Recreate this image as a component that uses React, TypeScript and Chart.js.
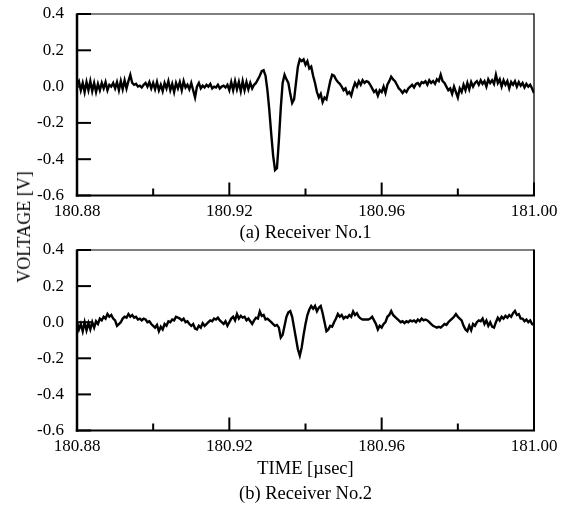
import React, { useEffect, useRef } from "react";
import { Chart, registerables } from "chart.js";

Chart.register(...registerables);

// ---- axes ----
const X_MIN = 180.88;
const X_MAX = 181.0;
const Y_MIN = -0.6;
const Y_MAX = 0.4;
const X_MAJOR = [180.88, 180.92, 180.96, 181.0];
const X_MINOR = [180.9, 180.94, 180.98];
const Y_TICKS = [0.4, 0.2, 0.0, -0.2, -0.4, -0.6];

// ---- sampling (µs) ----
const T_START = 180.88;
const T_STEP = 0.0005;

// ---- texts ----
const TITLE_A = "(a) Receiver No.1";
const TITLE_B = ["TIME [µsec]", "(b) Receiver No.2"];
const Y_TITLE = "VOLTAGE [V]";

// ---- series (V) ----
const RECEIVER_1 = [
  0.01, 0.03, -0.02, 0.02, -0.03, 0.025, -0.02, 0.03, -0.025, 0.02,
  -0.03, 0.015, -0.02, 0.02, -0.01, 0.025, -0.02, 0.01, 0.0, 0.02,
  -0.01, 0.025, -0.02, 0.03, -0.015, 0.035, -0.01, 0.03, 0.065, 0.02,
  0.01, 0.015, 0.0, 0.005, -0.005, 0.01, 0.02, 0.0, 0.025, -0.01,
  0.02, -0.015, 0.025, -0.02, 0.01, -0.025, 0.02, -0.01, 0.03, -0.02,
  0.015, -0.03, 0.02, -0.01, 0.025, -0.02, 0.03, -0.005, 0.01, -0.015,
  0.02, -0.02, -0.06, 0.0, 0.02, -0.01, 0.005, -0.005, 0.01, 0.0,
  0.015, -0.01, 0.0, -0.005, 0.01, -0.01, 0.0, 0.005, -0.005, 0.01,
  -0.02, 0.025, -0.02, 0.03, -0.015, 0.025, -0.025, 0.03, -0.02, 0.025,
  -0.015, 0.02, -0.01, 0.01, 0.02, 0.04, 0.06, 0.085, 0.09, 0.06,
  -0.02, -0.13, -0.26, -0.38, -0.46, -0.45, -0.3, -0.12, 0.02, 0.065,
  0.04, 0.02, -0.04, -0.09, -0.07, 0.02, 0.11, 0.15, 0.14, 0.15,
  0.12, 0.14, 0.1, 0.11, 0.06, 0.02, -0.03, -0.06, -0.04, -0.085,
  -0.06, -0.07, -0.02, 0.03, 0.065, 0.06, 0.04, 0.025, 0.015, 0.0,
  -0.02, -0.01, -0.04, -0.03, -0.05, -0.01, 0.02, 0.0, 0.03, 0.01,
  0.035, 0.02, 0.03, 0.025, 0.01, -0.01, -0.03, -0.02, -0.05, -0.02,
  -0.03, 0.0, -0.035, 0.01, 0.03, 0.055, 0.04, 0.03, 0.01, -0.01,
  -0.02, -0.035, -0.02, -0.03, -0.01, 0.0, 0.01, -0.005, 0.015, 0.02,
  0.005, 0.025, 0.02, 0.03, 0.01, 0.035, 0.02, 0.03, 0.015, 0.04,
  0.03, 0.065, 0.03, 0.02, 0.0, -0.02, -0.01, -0.04, 0.0, -0.03,
  -0.06, -0.01, -0.03, 0.01, -0.02, 0.02, -0.015, 0.025, 0.0, 0.02,
  0.03, 0.01, 0.035, 0.015, 0.03, 0.0, 0.04, 0.02, 0.035, 0.015,
  0.065, 0.02, 0.04, 0.0, 0.035, 0.01, 0.03, -0.01, 0.025, 0.01,
  0.03, 0.0, 0.025, 0.005, 0.02, -0.005, 0.015, 0.0, 0.01, -0.01,
  -0.035,
];

const RECEIVER_2 = [
  0.0, -0.04, -0.01, -0.05, 0.0, -0.045, -0.005, -0.04, 0.0, -0.03,
  0.005, -0.01, 0.02, 0.01, 0.03, 0.02, 0.045, 0.03, 0.04, 0.02,
  0.01, -0.02, -0.01, 0.0, 0.02, 0.03, 0.025, 0.045, 0.03, 0.04,
  0.025, 0.03, 0.015, 0.02, 0.01, 0.02, 0.015, 0.0, 0.005, -0.01,
  -0.02, -0.03, -0.015, -0.05, -0.025, -0.04, -0.01, -0.02, 0.005, 0.0,
  0.015, 0.01, 0.03, 0.025, 0.02, 0.01, 0.02, 0.0, 0.005, -0.01,
  -0.02, -0.01, -0.035, -0.04, -0.02, -0.03, -0.005, -0.02, -0.01, 0.0,
  0.01, 0.005, 0.02, 0.015, 0.025, 0.01, 0.0, -0.01, 0.005, -0.02,
  0.0, 0.02, 0.03, 0.01, 0.045, 0.02, 0.035, 0.025, 0.03, 0.01,
  0.02, 0.005, -0.01, 0.01, 0.025, 0.02, 0.06, 0.035, 0.04, 0.015,
  0.02, 0.01, 0.0, -0.01, -0.02, -0.015, -0.03, -0.085, -0.07, -0.02,
  0.03, 0.055, 0.062, 0.03, -0.03, -0.09, -0.15, -0.185, -0.14, -0.07,
  -0.01, 0.04, 0.07, 0.09, 0.075, 0.09, 0.06, 0.08, 0.09, 0.05,
  0.0, -0.05, -0.04, -0.02, -0.025, 0.0, 0.02, 0.045, 0.03, 0.04,
  0.02, 0.03, 0.025, 0.04, 0.03, 0.06, 0.04, 0.05, 0.03, 0.02,
  0.015, 0.015, 0.015, 0.015, 0.02, 0.03, 0.01, -0.01, -0.04, -0.02,
  -0.03, -0.01, 0.0, 0.03, 0.04, 0.062, 0.04, 0.03, 0.02, 0.01,
  0.0, 0.005, -0.005, 0.005, 0.0, 0.01, 0.005, 0.01, 0.0, 0.015,
  0.005, 0.02, 0.01, 0.015, 0.01, 0.0, -0.01, -0.02, -0.025, -0.03,
  -0.025, -0.03, -0.02, -0.01, -0.015, 0.0, 0.01, 0.02, 0.03, 0.045,
  0.03, 0.02, 0.01, -0.02, -0.04, -0.05, -0.02, -0.045, -0.01, -0.02,
  0.0, 0.01, 0.005, 0.02, -0.01, 0.01, -0.02, 0.0, -0.025, -0.03,
  0.0, 0.025, 0.01, 0.03, 0.02, 0.035, 0.025, 0.04, 0.03, 0.05,
  0.062, 0.04, 0.045, 0.02, 0.02, 0.005, 0.015, 0.0, 0.01, -0.01,
  -0.015,
];

const FONT = "'Liberation Serif', 'Times New Roman', Times, serif";

const framePlugin = {
  id: "frame",
  afterDatasetsDraw(chart: any, _args: any, opts: any) {
    const { ctx, chartArea, scales } = chart;
    const { left, right, top, bottom } = chartArea;
    const x = scales.x;
    const y = scales.y;
    const seg = (x1: number, y1: number, x2: number, y2: number) => {
      ctx.beginPath();
      ctx.moveTo(x1, y1);
      ctx.lineTo(x2, y2);
      ctx.stroke();
    };
    ctx.save();
    ctx.strokeStyle = "#000";
    ctx.lineCap = "butt";
    ctx.lineWidth = 1.2;
    seg(left, top, right, top);
    ctx.lineWidth = opts.rightWidth;
    seg(right, top - 0.6, right, bottom);
    ctx.lineWidth = 2.5;
    seg(left, top - 0.6, left, bottom + 1.2);
    ctx.lineWidth = 2.2;
    seg(left - 1.2, bottom, right + 1, bottom);
    ctx.lineWidth = 2;
    X_MAJOR.forEach((v) => {
      const px = x.getPixelForValue(v);
      seg(px, bottom, px, bottom - 13);
    });
    X_MINOR.forEach((v) => {
      const px = x.getPixelForValue(v);
      seg(px, bottom, px, bottom - 7);
    });
    Y_TICKS.forEach((v) => {
      const py = y.getPixelForValue(v);
      seg(left, py, left + 14, py);
    });
    ctx.restore();
  },
};

function makeConfig(
  values: number[],
  title: string | string[],
  canvasH: number,
  areaTop: number,
  areaBottom: number,
  titleLineHeight: number,
  titlePadBottom: number,
  rightWidth: number
): any {
  return {
    type: "line",
    data: {
      datasets: [
        {
          data: values.map((v, i) => ({ x: T_START + i * T_STEP, y: v })),
          borderColor: "#000",
          borderWidth: 2.4,
          pointRadius: 0,
          tension: 0,
          fill: false,
        },
      ],
    },
    options: {
      animation: false,
      responsive: false,
      maintainAspectRatio: false,
      events: [],
      layout: { padding: { left: 0, right: 31, top: areaTop, bottom: 0 } },
      plugins: {
        legend: { display: false },
        tooltip: { enabled: false },
        frame: { rightWidth },
      },
      scales: {
        x: {
          type: "linear",
          min: X_MIN,
          max: X_MAX,
          grid: { display: false, drawTicks: false },
          border: { display: false },
          afterBuildTicks: (s: any) => {
            s.ticks = X_MAJOR.map((v) => ({ value: v }));
          },
          ticks: {
            padding: 6,
            color: "#000",
            autoSkip: false,
            maxRotation: 0,
            font: { family: FONT, size: 17 },
            callback: (v: any) => Number(v).toFixed(2),
          },
          title: {
            display: true,
            text: title,
            color: "#000",
            font: { family: FONT, size: 18.5, lineHeight: titleLineHeight },
            padding: { top: 0, bottom: titlePadBottom },
          },
          afterFit: (s: any) => {
            s.height = canvasH - areaBottom;
            s.paddingLeft = 0;
            s.paddingRight = 0;
          },
        },
        y: {
          type: "linear",
          min: Y_MIN,
          max: Y_MAX,
          grid: { display: false, drawTicks: false },
          border: { display: false },
          afterBuildTicks: (s: any) => {
            s.ticks = Y_TICKS.map((v) => ({ value: v }));
          },
          ticks: {
            padding: 13,
            color: "#000",
            font: { family: FONT, size: 17 },
            callback: (v: any) => Number(v).toFixed(1),
          },
          afterFit: (s: any) => {
            s.width = 77;
            s.paddingTop = 0;
            s.paddingBottom = 0;
          },
        },
      },
    },
    plugins: [framePlugin],
  };
}

const H_A = 245;
const H_B = 272;
const TOP_B = 236;

export default function App() {
  const refA = useRef<HTMLCanvasElement>(null);
  const refB = useRef<HTMLCanvasElement>(null);

  useEffect(() => {
    const a = new Chart(
      refA.current as HTMLCanvasElement,
      makeConfig(RECEIVER_1, TITLE_A, H_A, 14, 195.5, 1.2, 1.2, 1.3)
    );
    const b = new Chart(
      refB.current as HTMLCanvasElement,
      makeConfig(RECEIVER_2, TITLE_B, H_B, 14, 194.5, 25 / 18.5, 1.5, 2)
    );
    return () => {
      a.destroy();
      b.destroy();
    };
  }, []);

  return (
    <div
      style={{
        position: "absolute",
        left: 0,
        top: 0,
        width: 565,
        height: 508,
        background: "#fff",
        overflow: "hidden",
      }}
    >
      <canvas
        ref={refA}
        width={565}
        height={H_A}
        style={{ position: "absolute", left: 0, top: 0, width: 565, height: H_A }}
      />
      <canvas
        ref={refB}
        width={565}
        height={H_B}
        style={{ position: "absolute", left: 0, top: TOP_B, width: 565, height: H_B }}
      />
      <div
        style={{
          position: "absolute",
          left: 24,
          top: 227,
          transform: "translate(-50%, -50%) rotate(-90deg)",
          fontFamily: FONT,
          fontSize: 18,
          lineHeight: 1,
          whiteSpace: "nowrap",
          color: "#000",
        }}
      >
        {Y_TITLE}
      </div>
    </div>
  );
}
